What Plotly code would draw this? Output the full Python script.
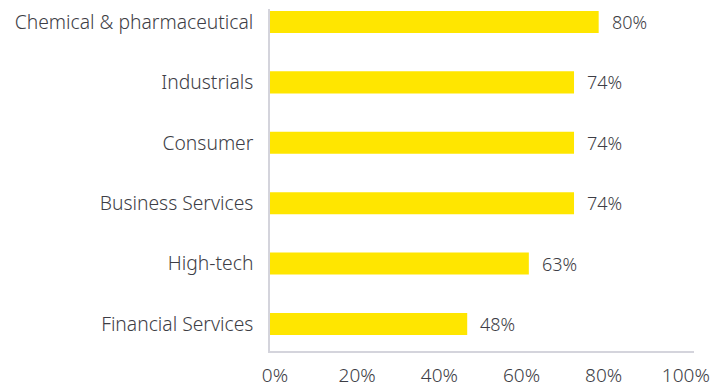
import plotly.graph_objects as go

# Share of respondents by sector (bottom to top as drawn)
sectors = ["Financial Services", "High-tech", "Business Services",
           "Consumer", "Industrials", "Chemical & pharmaceutical"]
shares = [48, 63, 74, 74, 74, 80]
tick_vals = [0, 20, 40, 60, 80, 100]
tick_text = ["0%", "20%", "40%", "60%", "80%", "100%"]

text_color = "#3d3d45"
font_family = "Noto Sans, Open Sans, sans-serif"

fig = go.Figure(
    go.Bar(
        y=list(range(len(sectors))),
        x=shares,
        orientation="h",
        marker=dict(color="#FFE600", line=dict(width=0)),
        width=0.365,
        hoverinfo="skip",
    )
)

# Value labels to the right of each bar
for i, v in enumerate(shares):
    fig.add_annotation(
        x=v, y=i, text=f"{v}%", showarrow=False,
        xanchor="left", yanchor="middle", xshift=11,
        font=dict(family=font_family, size=18, color=text_color, weight=300),
    )

fig.update_layout(
    width=725, height=387,
    margin=dict(l=270, r=31, t=9, b=36),
    paper_bgcolor="white", plot_bgcolor="white",
    showlegend=False,
    font=dict(family=font_family, color=text_color),
    xaxis=dict(
        range=[0, 103.2],
        tickvals=tick_vals, ticktext=tick_text,
        showgrid=False, zeroline=False,
        showline=True, linecolor="#d4d4dc", linewidth=1.5,
        ticks="", ticklabelstandoff=6, ticklabelshift=5,
        automargin=False,
        tickfont=dict(size=19, color=text_color, weight=300),
    ),
    yaxis=dict(
        range=[-0.447, 5.215],
        tickvals=list(range(len(sectors))), ticktext=sectors,
        showgrid=False, zeroline=False,
        showline=True, linecolor="#d4d4dc", linewidth=1.5,
        ticks="", ticklabelstandoff=11,
        automargin=False,
        tickfont=dict(size=19.3, color=text_color, weight=300),
    ),
)

fig.write_html("out.html")
